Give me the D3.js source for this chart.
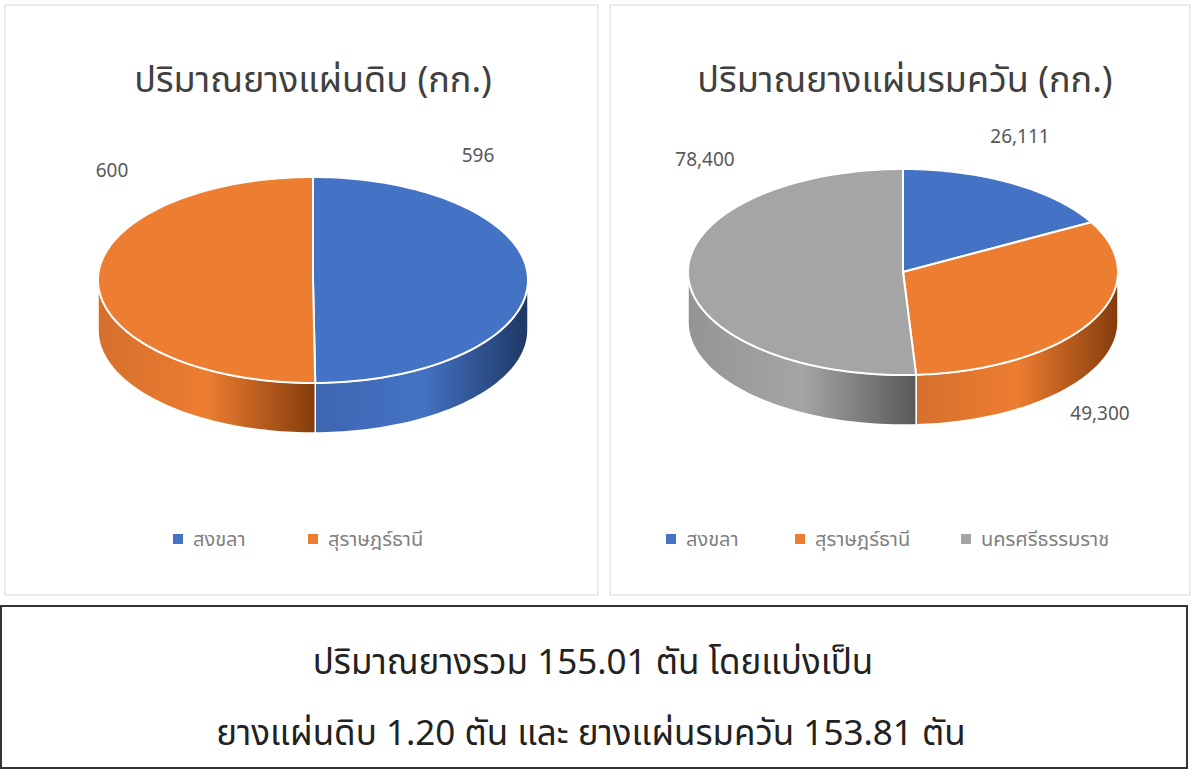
<!DOCTYPE html>
<html><head><meta charset="utf-8">
<script src="https://cdn.jsdelivr.net/npm/d3@7/dist/d3.min.js"></script>
<style>body{margin:0;background:#fff}svg{display:block}text{font-family:"Noto Sans Thai","Noto Sans",sans-serif}</style>
</head><body><svg id="c" width="1200" height="776"></svg>
<script>
const leftCats=["สงขลา","สุราษฎร์ธานี"];
const leftVals=[596,600];
const leftLabels=["596","600"];
const rightCats=["สงขลา","สุราษฎร์ธานี","นครศรีธรรมราช"];
const rightVals=[26111,49300,78400];
const rightLabels=["26,111","49,300","78,400"];
const colors=["#4472C4","#ED7D31","#A5A5A5"];
const sideDark=["#1F3864","#843C0C","#595959"];
const titles=["ปริมาณยางแผ่นดิบ (กก.)","ปริมาณยางแผ่นรมควัน (กก.)"];
const summary=["ปริมาณยางรวม 155.01 ตัน โดยแบ่งเป็น","ยางแผ่นดิบ 1.20 ตัน และ ยางแผ่นรมควัน 153.81 ตัน"];

const svg=d3.select("#c");
const defs=svg.append("defs");
colors.forEach((c,i)=>{
  const g=defs.append("linearGradient").attr("id","g"+i).attr("x1","0").attr("x2","1");
  g.append("stop").attr("offset","0").attr("stop-color",d3.color(c).darker(0.3));
  g.append("stop").attr("offset","0.5").attr("stop-color",c);
  g.append("stop").attr("offset","1").attr("stop-color",sideDark[i]);
});
svg.append("rect").attr("x",5).attr("y",5).attr("width",593).attr("height",590).attr("fill","#fff").attr("stroke","#d9d9d9");
svg.append("rect").attr("x",610).attr("y",5).attr("width",580).attr("height",590).attr("fill","#fff").attr("stroke","#d9d9d9");
svg.append("rect").attr("x",1).attr("y",606).attr("width",1186).attr("height",162).attr("fill","#fff").attr("stroke","#333").attr("stroke-width",2);

function pie3d(cx,cy,vals,labels,labelPos,cats,legendX,title,titleX){
  const rx=215,ry=103,depth=50;
  const sx=d3.scaleLinear().domain([-1,1]).range([cx-rx,cx+rx]);
  const sy=d3.scaleLinear().domain([-1,1]).range([cy-ry,cy+ry]);
  const P=(t,dy=0)=>[sx(Math.sin(t)),sy(-Math.cos(t))+dy];
  const arcs=d3.pie().sort(null)(vals);
  const g=svg.append("g");
  arcs.forEach((a,i)=>{
    const s=Math.max(a.startAngle,Math.PI/2), e=Math.min(a.endAngle,1.5*Math.PI);
    if(e<=s) return;
    const n=60, top=[], bot=[];
    for(let k=0;k<=n;k++){const t=s+(e-s)*k/n; top.push(P(t)); bot.push(P(t,depth));}
    const pts=top.concat(bot.reverse());
    g.append("path").attr("d","M"+pts.join("L")+"Z").attr("fill","url(#g"+i+")").attr("stroke","#fff").attr("stroke-width",1.5);
  });
  arcs.forEach((a,i)=>{
    const n=120, pts=[[cx,cy]];
    for(let k=0;k<=n;k++) pts.push(P(a.startAngle+(a.endAngle-a.startAngle)*k/n));
    g.append("path").attr("d","M"+pts.join("L")+"Z").attr("fill",colors[i]).attr("stroke","#fff").attr("stroke-width",2);
  });
  labels.forEach((l,i)=>svg.append("text").attr("x",labelPos[i][0]).attr("y",labelPos[i][1]).attr("text-anchor","middle").attr("font-size",19).attr("fill","#595959").text(l));
  svg.append("text").attr("x",titleX).attr("y",92).attr("text-anchor","middle").attr("font-size",36).attr("fill","#404040").text(title);
  cats.forEach((c,i)=>{
    svg.append("rect").attr("x",legendX[i]).attr("y",534).attr("width",10).attr("height",10).attr("fill",colors[i]);
    svg.append("text").attr("x",legendX[i]+20).attr("y",546).attr("font-size",20).attr("fill","#7f7f7f").text(c);
  });
}
pie3d(313,280,leftVals,leftLabels,[[478,162],[112,177]],leftCats,[173,308],titles[0],313);
pie3d(903,272,rightVals,rightLabels,[[1020,143],[1100,420],[705,166]],rightCats,[666,795,961],titles[1],905);
svg.append("text").attr("x",593).attr("y",674).attr("text-anchor","middle").attr("font-size",35).attr("fill","#222").text(summary[0]);
svg.append("text").attr("x",591).attr("y",745).attr("text-anchor","middle").attr("font-size",35).attr("fill","#222").text(summary[1]);
</script></body></html>
